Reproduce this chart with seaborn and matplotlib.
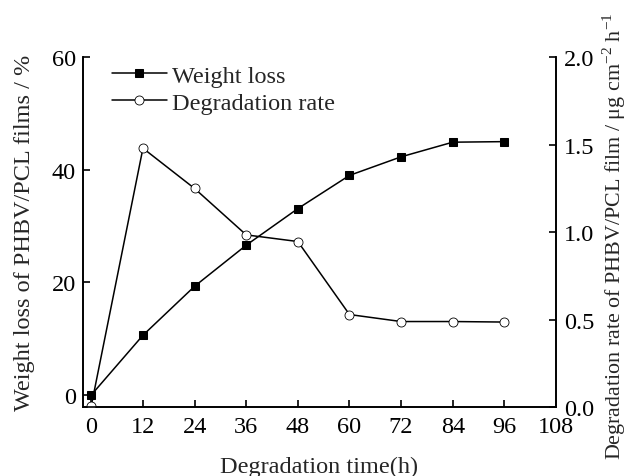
import matplotlib
matplotlib.use("Agg")
import matplotlib.pyplot as plt
import seaborn as sns
import pandas as pd

time_h = [0, 12, 24, 36, 48, 60, 72, 84, 96]
weight_loss = [0.0, 10.6, 19.3, 26.6, 33.1, 39.0, 42.3, 44.9, 45.0]
degradation_rate = [0.01, 1.48, 1.25, 0.985, 0.947, 0.53, 0.49, 0.49, 0.487]
x_ticks = [0, 12, 24, 36, 48, 60, 72, 84, 96, 108]
left_ticks = [0, 20, 40, 60]
right_ticks = [0.0, 0.5, 1.0, 1.5, 2.0]

sns.set_style("ticks")
plt.rcParams['font.family'] = ['Liberation Serif', 'DejaVu Serif']
plt.rcParams['mathtext.fontset'] = 'custom'
plt.rcParams['mathtext.rm'] = 'Liberation Serif'

df = pd.DataFrame({"time": time_h, "wl": weight_loss, "dr": degradation_rate})

fig = plt.figure(figsize=(6.3, 4.77), dpi=100)
ax = fig.add_axes([0.1313, 0.144, 0.7512, 0.734])
ax2 = ax.twinx()

sns.lineplot(data=df, x="time", y="wl", ax=ax, color="black", marker="s",
             markersize=5.5, markeredgecolor="black", markerfacecolor="black",
             linewidth=1.1, label="Weight loss", legend=False)
sns.lineplot(data=df, x="time", y="dr", ax=ax2, color="black", marker="o",
             markersize=6.5, markeredgecolor="black", markerfacecolor="white",
             markeredgewidth=0.6, linewidth=1.1, label="Degradation rate", legend=False)

ax.set_xlim(-2, 108)
ax.set_ylim(-2.2, 60)
ax2.set_ylim(0, 2.0)
ax.set_xticks(x_ticks)
ax.set_yticks(left_ticks)
ax2.set_yticks(right_ticks)
ax2.set_yticklabels([f"{v:.1f}" for v in right_ticks])

fs = 17.5
for a in (ax, ax2):
    a.tick_params(direction="in", length=5, width=1.2, labelsize=fs, colors="black")
    for s in a.spines.values():
        s.set_linewidth(1.2)
        s.set_color("black")
    a.spines["top"].set_visible(False)
ax.tick_params(axis="y", pad=5)
ax2.tick_params(axis="y", pad=6)
ax.tick_params(axis="x", pad=6)

ax.set_xlabel("Degradation time(h)", fontsize=fs, labelpad=14)
ax.set_ylabel("Weight loss of PHBV/PCL films / %", fontsize=fs, labelpad=12)
ax2.set_ylabel(r"Degradation rate of PHBV/PCL film / μg cm$^{-2}$ h$^{-1}$", fontsize=15.8, labelpad=6)
ax2.yaxis.set_label_coords(1.094, 0.49)

h1, l1 = ax.get_legend_handles_labels()
h2, l2 = ax2.get_legend_handles_labels()
ax.legend(h1 + h2, l1 + l2, loc="upper left", bbox_to_anchor=(0.03, 1.02),
          frameon=False, fontsize=fs, handlelength=2.3, handletextpad=0.2,
          labelspacing=0.2, borderaxespad=0.2)

fig.savefig("out.png", dpi=100)
